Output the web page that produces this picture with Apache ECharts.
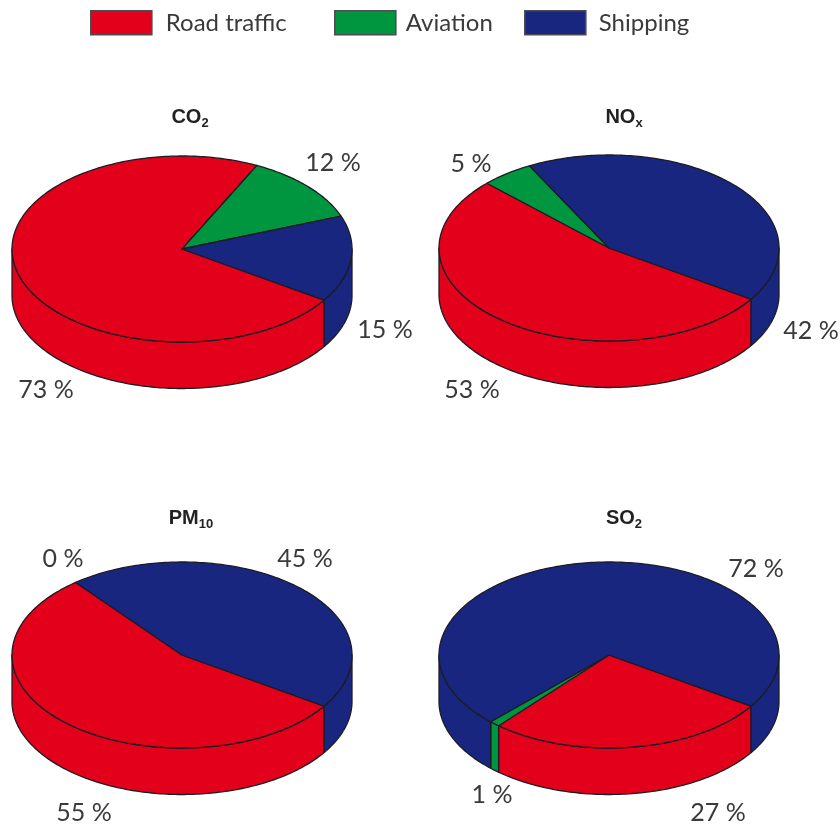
<!DOCTYPE html>
<html>
<head>
<meta charset="utf-8">
<style>html,body{margin:0;padding:0;background:#fff}#main{width:840px;height:826px}</style>
<script src="https://cdn.jsdelivr.net/npm/echarts@6/dist/echarts.min.js"></script>
</head>
<body>
<div id="main"></div>
<script>
// Share of transport emissions by source, one disc per pollutant
const sources = ['Road traffic', 'Aviation', 'Shipping'];
const co2 = [73, 12, 15];
const nox = [53, 5, 42];
const pm10 = [55, 0, 45];
const so2 = [27, 1, 72];

const RED = '#e2001a', GREEN = '#009640', BLUE = '#182680';
const EDGE = '#1c1c24', INK = '#3a3a3a';
const FONT = 'Lato, "Open Sans", sans-serif';
const sourceColors = [RED, GREEN, BLUE];

// Frame of each disc and where its title and percent labels sit
const panels = [
  { values: co2, left: 12, top: 156, title: '{b|CO}{s|2}', titleAt: [185, 99],
    spots: [[46, 390], [333, 163], [385, 330]] },
  { values: nox, left: 439, top: 155, title: '{b|NO}{s|x}', titleAt: [619, 99],
    spots: [[472, 390], [471, 164], [811, 331]] },
  { values: pm10, left: 12, top: 562, title: '{b|PM}{s|10}', titleAt: [186, 500],
    spots: [[84, 813], [63, 559], [305, 559]] },
  { values: so2, left: 439, top: 562, title: '{b|SO}{s|2}', titleAt: [619, 500],
    spots: [[718, 813], [492, 795], [756, 569]] }
];
const legendSlots = [[90, 14], [334, 10], [524, 13]];
const DISC_W = 340, DISC_H = 186;
const WALL = 0.5;           // wall height in y-axis units (radius = 1)
const FIRST_CUT = 33.3;     // first slice starts this far below the right-hand edge
const STEP = 1;             // arc sampling, degrees

function rimPoint(deg, drop) {
  const r = deg * Math.PI / 180;
  return [Math.cos(r), Math.sin(r) + drop];
}

function arc(from, to, drop) {
  const pts = [];
  for (let a = from; a < to; a += STEP) pts.push(rimPoint(a, drop));
  pts.push(rimPoint(to, drop));
  return pts;
}

function sliceRenderer(panel, idx) {
  const before = panel.values.slice(0, idx).reduce((s, v) => s + v, 0);
  const start = FIRST_CUT + before * 3.6;
  const end = start + panel.values[idx] * 3.6;
  return function (params, api) {
    const toPx = p => api.coord(p);
    const style = { fill: sourceColors[idx], stroke: EDGE, lineWidth: 1.3, lineJoin: 'round' };
    const children = [];
    // Only the part of the rim that faces the viewer gets a wall
    [[0, 180], [360, 540]].forEach(([lo, hi]) => {
      const a = Math.max(start, lo), b = Math.min(end, hi);
      if (b <= a) return;
      const pts = arc(a, b, 0).concat(arc(a, b, WALL).reverse());
      children.push({ type: 'polygon', shape: { points: pts.map(toPx) }, style });
    });
    if (end > start) {
      const top = [[0, 0]].concat(arc(start, end, 0));
      children.push({ type: 'polygon', shape: { points: top.map(toPx) }, style });
    }
    const spot = panel.spots[idx];
    children.push({
      type: 'text', z2: 10, x: spot[0], y: spot[1],
      style: { text: api.value(0) + ' %', fill: INK, font: '25px ' + FONT, align: 'center', verticalAlign: 'middle' }
    });
    return { type: 'group', children };
  };
}

const grid = panels.map(p => ({ left: p.left, top: p.top, width: DISC_W, height: DISC_H, show: false }));
const axisBase = { type: 'value', min: -1, max: 1, show: false };
const series = [];
panels.forEach((panel, pi) => {
  sources.forEach((name, si) => {
    series.push({
      type: 'custom', name, xAxisIndex: pi, yAxisIndex: pi, clip: false, silent: true,
      itemStyle: { color: sourceColors[si] },
      data: [[panel.values[si]]],
      encode: { x: [], y: [] },
      renderItem: sliceRenderer(panel, si)
    });
  });
});

const chart = echarts.init(document.getElementById('main'), null, { renderer: 'canvas' });
chart.setOption({
  animation: false,
  backgroundColor: '#fff',
  grid,
  xAxis: panels.map((_, i) => ({ ...axisBase, gridIndex: i })),
  yAxis: panels.map((_, i) => ({ ...axisBase, gridIndex: i, inverse: true })),
  title: panels.map(p => ({
    text: p.title, left: p.titleAt[0], top: p.titleAt[1], textAlign: 'center',
    textStyle: {
      rich: {
        b: { fontFamily: '"Liberation Sans"', fontWeight: 'bold', fontSize: 20, color: '#222', lineHeight: 26 },
        s: { fontFamily: '"Liberation Sans"', fontWeight: 'bold', fontSize: 13, color: '#222', lineHeight: 26, verticalAlign: 'bottom', padding: [9, 0, 0, 0] }
      }
    }
  })),
  // One legend per source so each entry keeps its own slot along the top row
  legend: sources.map((name, i) => ({
    data: [name], left: legendSlots[i][0], top: 10, padding: 0,
    itemWidth: 61, itemHeight: 24, icon: 'rect', selectedMode: false,
    itemStyle: { borderColor: '#4c4c52', borderWidth: 1.6 },
    textStyle: { fontFamily: FONT, fontSize: 24, color: INK, padding: [0, 0, 0, legendSlots[i][1] - 5] }
  })),
  series
});
</script>
</body>
</html>
